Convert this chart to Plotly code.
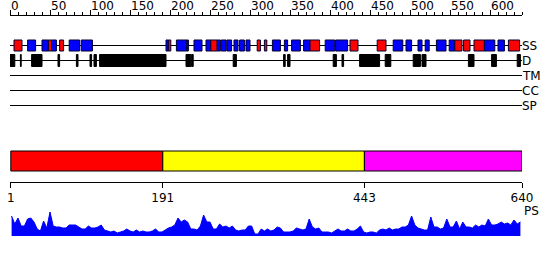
import plotly.graph_objects as go

seq_len = 640
scale_labels = [0, 50, 100, 150, 200, 250, 300, 350, 400, 450, 500, 550, 600]
track_names = ["SS", "D", "TM", "CC", "SP"]

# secondary structure: H = helix (red), E = strand (blue)
ss_start = [5, 22, 40, 48, 52, 62, 74, 89, 195, 198, 208, 221, 230, 245, 251, 259, 264, 271, 280, 287, 295,
            309, 318, 328, 343, 352, 367, 375, 394, 407, 425, 459, 479, 495, 510, 519, 533, 549, 556, 567,
            580, 593, 610, 623]
ss_end = [15, 32, 48, 52, 58, 67, 87, 103, 198, 201, 221, 223, 240, 251, 259, 263, 270, 277, 285, 293, 300,
          313, 321, 338, 347, 363, 375, 387, 406, 422, 435, 470, 491, 502, 515, 524, 545, 556, 565, 575,
          593, 606, 618, 637]
ss_type = ["H", "E", "E", "H", "E", "H", "E", "E", "E", "H", "E", "E", "E", "E", "H", "E", "E", "E", "E", "E", "E",
           "H", "H", "E", "E", "E", "E", "H", "E", "E", "H", "H", "E", "E", "E", "E", "E", "E", "H", "H",
           "H", "E", "E", "H"]

# disordered regions
dis_start = [0, 13, 27, 60, 83, 100, 105, 112, 220, 227, 279, 342, 347, 404, 415, 437, 469, 504, 515, 573, 602, 634]
dis_end = [6, 14, 40, 62, 85, 102, 108, 195, 226, 229, 283, 344, 350, 408, 417, 462, 476, 513, 520, 580, 608, 638]

# domains
dom_start = [1, 191, 443]
dom_end = [191, 443, 640]
dom_color = ["#ff0000", "#ffff00", "#ff00ff"]
dom_ticks = [1, 191, 443, 640]

# PS profile, one value per 4 residues
ps_values = [20, 12, 18, 10, 10, 17, 18, 14, 7, 5, 15, 8, 24, 10, 9, 9, 8, 8, 11, 11,
             11, 9, 7, 7, 10, 8, 8, 9, 11, 6, 5, 4, 5, 3, 4, 5, 7, 5, 4, 6,
             4, 5, 4, 4, 5, 7, 4, 4, 6, 8, 9, 11, 18, 14, 16, 14, 7, 7, 6, 10,
             21, 14, 14, 7, 7, 12, 9, 10, 8, 10, 6, 5, 6, 6, 10, 10, 2, 2, 7, 5,
             7, 5, 6, 9, 8, 4, 4, 4, 5, 8, 7, 6, 7, 17, 9, 7, 8, 4, 4, 4,
             3, 5, 7, 5, 5, 7, 5, 5, 7, 10, 4, 3, 4, 4, 3, 6, 7, 6, 8, 6,
             7, 7, 9, 9, 11, 20, 11, 8, 7, 6, 6, 19, 9, 9, 7, 8, 17, 9, 9, 15,
             7, 14, 9, 9, 8, 11, 9, 11, 10, 17, 11, 11, 12, 14, 12, 13, 11, 16, 12, 14]
ps_pos = [4 * i + 2 for i in range(len(ps_values))]

FONT = "DejaVu Sans"
W, H = 550, 260
X0, X1 = 10, 522           # pixel extent of the sequence axis
SS_Y, D_Y = 45.5, 60.5
LINE_Y = {"TM": 75.5, "CC": 90.5, "SP": 105.5}
TOP_AXIS_Y = 15
DOM_Y0, DOM_Y1 = 151, 171
DOM_AXIS_Y = 182
PS_BASE, PS_TOP = 236, 211

fig = go.Figure()

shapes = []
for y in [SS_Y, D_Y] + list(LINE_Y.values()):
    shapes.append(dict(type="line", xref="x", yref="y", x0=0, x1=seq_len, y0=y, y1=y,
                       line=dict(color="black", width=1)))
for s, e, t in zip(ss_start, ss_end, ss_type):
    shapes.append(dict(type="rect", xref="x", yref="y", x0=s, x1=e, y0=SS_Y - 5.5, y1=SS_Y + 5.5,
                       fillcolor="#ff0000" if t == "H" else "#0000ff",
                       line=dict(color="#000033", width=1)))
for s, e in zip(dis_start, dis_end):
    shapes.append(dict(type="rect", xref="x", yref="y", x0=s, x1=e, y0=D_Y - 6, y1=D_Y + 6,
                       fillcolor="black", line=dict(color="black", width=1)))
for s, e, c in zip(dom_start, dom_end, dom_color):
    shapes.append(dict(type="rect", xref="x", yref="y", x0=s, x1=e, y0=DOM_Y0, y1=DOM_Y1,
                       fillcolor=c, line=dict(color="black", width=1)))

# PS profile on its own small panel
fig.add_trace(go.Scatter(x=ps_pos, y=ps_values, mode="lines", fill="tozeroy",
                         line=dict(color="#0000ff", width=1), fillcolor="#0000ff",
                         xaxis="x3", yaxis="y2", hoverinfo="skip", showlegend=False))
# invisible traces to activate the main axes
fig.add_trace(go.Scatter(x=[0], y=[0], xaxis="x", yaxis="y", mode="markers",
                         marker=dict(opacity=0), hoverinfo="skip", showlegend=False))
fig.add_trace(go.Scatter(x=[dom_ticks[0]], y=[DOM_AXIS_Y], xaxis="x2", yaxis="y", mode="markers",
                         marker=dict(opacity=0), hoverinfo="skip", showlegend=False))

annotations = []
for v in scale_labels:
    annotations.append(dict(x=v, y=6, xref="x", yref="y", text=str(v), showarrow=False,
                            xanchor="left", yanchor="middle", xshift=-1,
                            font=dict(family=FONT, size=12, color="black")))
ys = {"SS": SS_Y, "D": D_Y, **LINE_Y}
for name in track_names:
    annotations.append(dict(x=seq_len - 2, y=ys[name], xref="x", yref="y", text=name,
                            showarrow=False, xanchor="left", yanchor="middle",
                            font=dict(family=FONT, size=12, color="black")))
annotations.append(dict(x=seq_len, y=PS_TOP, xref="x", yref="y", text="PS", showarrow=False,
                        xanchor="left", yanchor="middle",
                        font=dict(family=FONT, size=12, color="black")))

dom_lo = X0 / W
dom_hi = X1 / W
fig.update_layout(
    width=W, height=H, autosize=False, margin=dict(l=0, r=0, t=0, b=0, pad=0, autoexpand=False),
    paper_bgcolor="white", plot_bgcolor="rgba(0,0,0,0)", showlegend=False,
    shapes=shapes, annotations=annotations,
    xaxis=dict(domain=[dom_lo, dom_hi], range=[0, seq_len], side="top", anchor="free",
               position=1 - TOP_AXIS_Y / H, showline=True, linecolor="black", linewidth=1,
               showgrid=False, zeroline=False, ticks="outside", tickvals=scale_labels,
               ticklen=5, tickcolor="black", showticklabels=False, automargin=False,
               minor=dict(dtick=10, tick0=0, ticks="outside", ticklen=3, tickcolor="black")),
    xaxis2=dict(domain=[dom_lo, dom_hi], range=[0, seq_len], overlaying="x", side="bottom",
                anchor="free", position=1 - DOM_AXIS_Y / H, showline=True, linecolor="black",
                linewidth=1, showgrid=False, zeroline=False, ticks="outside", tickvals=dom_ticks,
                ticktext=[str(t) for t in dom_ticks], ticklen=5, tickcolor="black", automargin=False,
                tickfont=dict(family=FONT, size=12, color="black")),
    xaxis3=dict(domain=[dom_lo, dom_hi], range=[0, seq_len], anchor="y2", visible=False,
                automargin=False),
    yaxis=dict(domain=[0, 1], range=[H, 0], visible=False, automargin=False),
    yaxis2=dict(domain=[(H - PS_BASE) / H, (H - PS_TOP) / H], range=[0, 25], visible=False,
                anchor="x3", automargin=False),
)

fig.write_html("out.html")
